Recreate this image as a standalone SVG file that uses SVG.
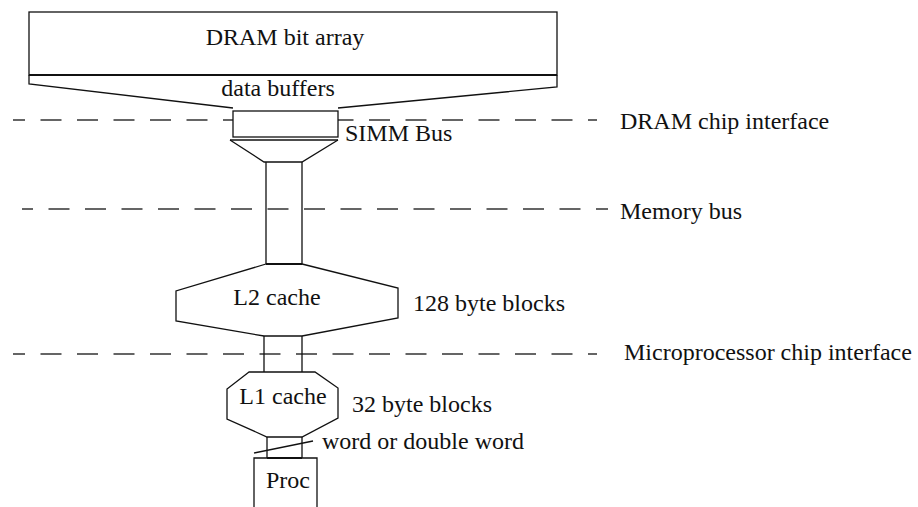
<svg xmlns="http://www.w3.org/2000/svg" width="918" height="507" viewBox="0 0 918 507">
<style>
  .s{fill:none;stroke:#111;stroke-width:1.3;stroke-linejoin:miter}
  .w{fill:#fff;stroke:#111;stroke-width:1.3}
  .d{fill:none;stroke:#333;stroke-width:1.3;stroke-dasharray:21 15.5}
  text{font-family:"Liberation Serif","Times New Roman",serif;font-size:24px;fill:#111}
</style>
<rect width="918" height="507" fill="#fff"/>
<g id="dashes">
  <line class="d" x1="13" y1="120" x2="597" y2="120" stroke-dashoffset="9"/>
  <line class="d" x1="22" y1="209" x2="608" y2="209" stroke-dashoffset="10"/>
  <line class="d" x1="13" y1="354" x2="597" y2="354" stroke-dashoffset="9"/>
</g>
<g id="dram">
  <rect class="w" x="29" y="12" width="528" height="63" stroke-width="1.1"/>
  <text x="285" y="45" text-anchor="middle">DRAM bit array</text>
</g>
<g id="buffers">
  <path class="s" d="M29,75 V84 L233,108 M557,75 V87 L338,108"/>
  <line x1="29" y1="75" x2="557" y2="75" stroke="#111" stroke-width="2.2"/>
  <text x="278" y="96" text-anchor="middle">data buffers</text>
</g>
<g id="simm">
  <rect class="w" x="233" y="111" width="105" height="26"/>
  <line x1="230" y1="140" x2="338" y2="140" stroke="#111" stroke-width="1.3"/>
  <path class="s" d="M230,140 L264,162 H302 L338,140"/>
</g>
<g id="connectors">
  <path class="s" d="M266,162 V264 M302,162 V264"/>
  <path class="s" d="M264,336 V372 M302,336 V372"/>
  <path class="s" d="M267,437 V458 M302,437 V458"/>
</g>
<g id="l2">
  <path class="s" d="M266,264 L176,291 V321 L264,336 H302 L398,318 V288 L302,264"/>
  <line x1="266" y1="264" x2="302" y2="264" stroke="#111" stroke-width="2.2"/>
  <text x="277" y="305" text-anchor="middle">L2 cache</text>
</g>
<g id="l1">
  <path class="s" d="M249,372 L227,389 V419 L267,437 H302 L338,418 V388 L315,372 Z"/>
  <text x="283" y="404" text-anchor="middle">L1 cache</text>
</g>
<g id="proc">
  <line x1="267" y1="458" x2="302" y2="458" stroke="#111" stroke-width="2.2"/>
  <path class="s" d="M254,510 V458 H317 V510"/>
  <line class="s" x1="254" y1="453" x2="313" y2="441"/>
  <text x="288" y="488" text-anchor="middle">Proc</text>
</g>
<g id="labels">
  <text x="345" y="141">SIMM Bus</text>
  <text x="620" y="129">DRAM chip interface</text>
  <text x="620" y="219">Memory bus</text>
  <text x="413" y="311">128 byte blocks</text>
  <text x="624" y="360">Microprocessor chip interface</text>
  <text x="352" y="412">32 byte blocks</text>
  <text x="322" y="449">word or double word</text>
</g>
</svg>
